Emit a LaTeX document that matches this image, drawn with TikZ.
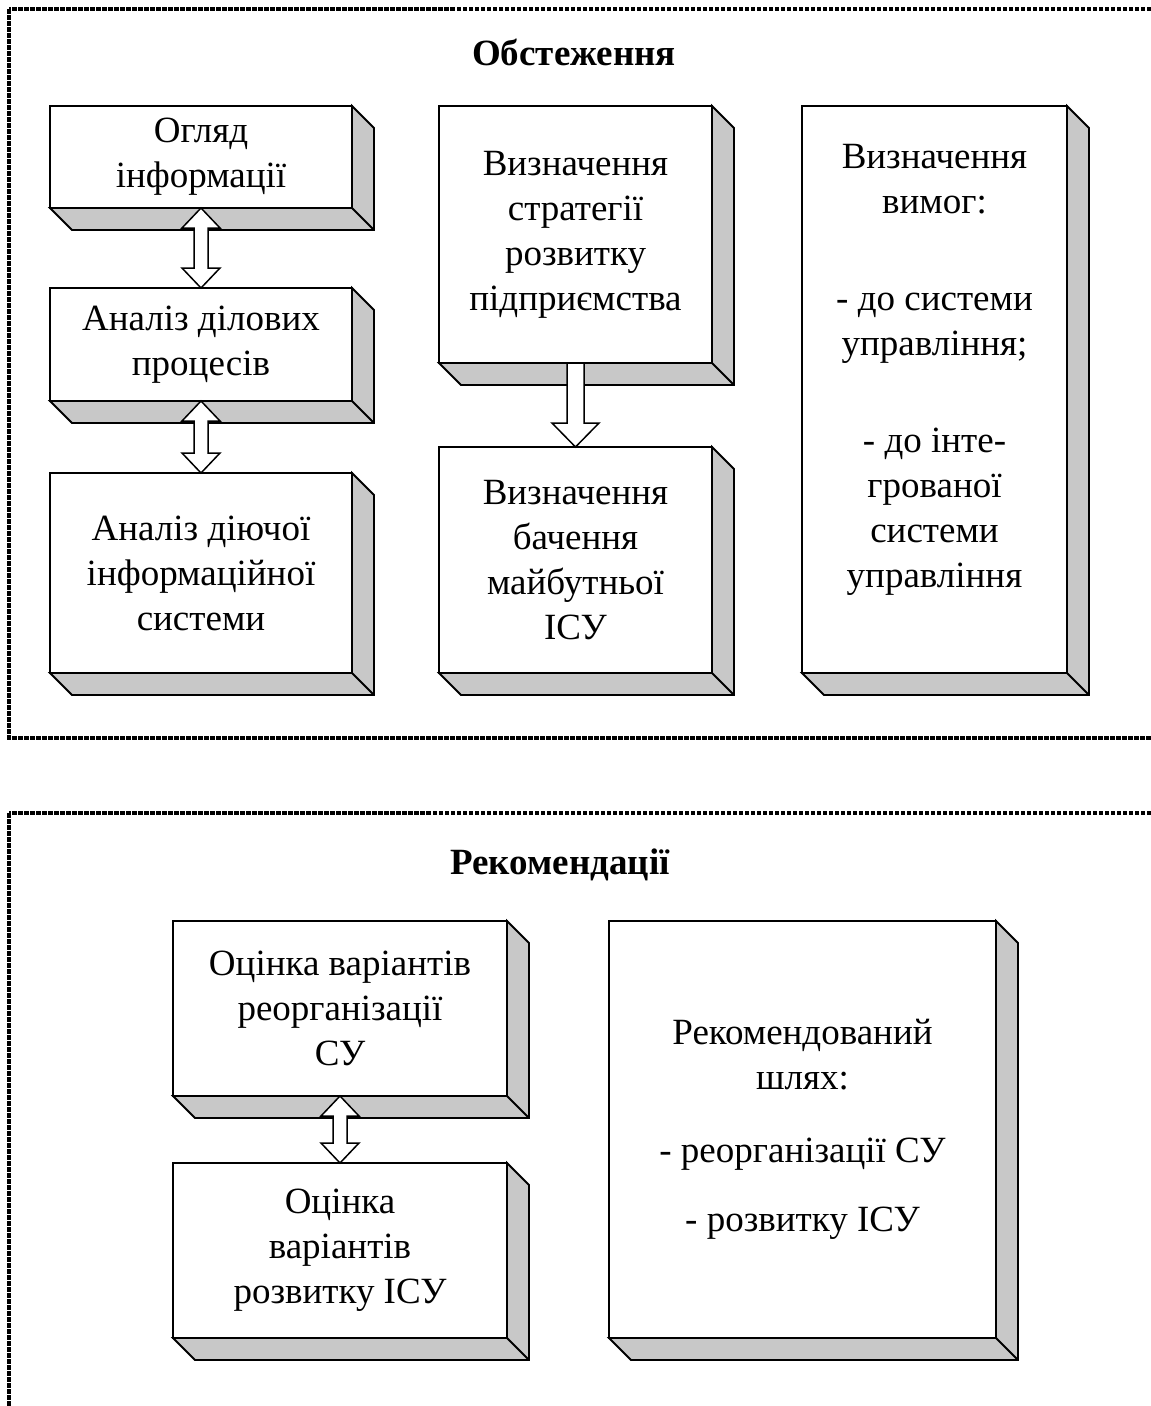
\documentclass[tikz,border=0pt]{standalone}
\usepackage{fontspec}
\setmainfont{Liberation Serif}
\usetikzlibrary{calc}
\definecolor{sidegray}{RGB}{200,200,200}
\tikzset{
  x=1pt, y=-1pt,
  face/.style={draw=black, line width=1.8pt, fill=white, align=center,
    inner sep=0pt, outer sep=0pt, font=\fontsize{37}{45}\selectfont},
  side/.style={draw=black, line width=1.8pt, fill=sidegray, line join=miter},
  blockarr/.style={draw=black, line width=1.5pt, fill=white, line join=miter},
  frame/.style={draw=black, line width=3.5pt, dash pattern=on 4.5pt off 1.5pt},
  heading/.style={font=\bfseries\fontsize{37}{45}\selectfont},
}
% bottom and right faces of a 3-D box behind a front-face node
\newcommand\boxdepth[1]{%
  \draw[side] (#1.south west) -- ++(22,22) -| ($(#1.north east)+(22,22)$)
     -- (#1.north east) -- (#1.south east) -- cycle;
  \draw[side] (#1.south east) -- ++(22,22);}
% white double-headed block arrow between two stacked boxes
\newcommand\dblarrow[2]{%
  \draw[blockarr] let \p1=(#1.south), \p2=(#2.north) in
    (\x1,\y1) -- ({\x1+19pt},{\y1-20pt}) -- ({\x1+7pt},{\y1-20pt})
    -- ({\x1+7pt},{\y2+20pt}) -- ({\x1+19pt},{\y2+20pt}) -- (\x1,\y2)
    -- ({\x1-19pt},{\y2+20pt}) -- ({\x1-7pt},{\y2+20pt})
    -- ({\x1-7pt},{\y1-20pt}) -- ({\x1-19pt},{\y1-20pt}) -- cycle;}
% white single-headed block arrow pointing down
\newcommand\sglarrow[2]{%
  \draw[blockarr] let \p1=(#1.south), \p2=(#2.north) in
    ({\x1-8.5pt},\y1) -- ({\x1+8.5pt},\y1) -- ({\x1+8.5pt},{\y2+24pt})
    -- ({\x1+23.5pt},{\y2+24pt}) -- (\x1,\y2) -- ({\x1-23.5pt},{\y2+24pt})
    -- ({\x1-8.5pt},{\y2+24pt}) -- cycle;}
\begin{document}
\begin{tikzpicture}
\useasboundingbox (0,0) rectangle (1151,1406);
\clip (0,0) rectangle (1151,1406);
\fill[white] (0,0) rectangle (1151,1406);

% dashed section frames
\draw[frame] (9,9) rectangle (1180,738);
\draw[frame] (9,813) rectangle (1180,1440);

% section headings
\node[heading] (obst) at (574,52) {Обстеження};
\node[heading] (rekh) at (560,865) {Рекомендації};

% survey section
\node[face, minimum width=302, minimum height=102] (ogl) at (201,157)
  {Огляд\\інформації};
\node[face, minimum width=302, minimum height=113] (adp) at (201,344.5)
  {Аналіз ділових\\процесів};
\node[face, minimum width=302, minimum height=200] (adis) at (201,573)
  {Аналіз діючої\\інформаційної\\системи};
\node[face, minimum width=273, minimum height=257] (str) at (575.5,234.5)
  {Визначення\\стратегії\\розвитку\\підприємства};
\node[face, minimum width=273, minimum height=226] (bach) at (575.5,560)
  {Визначення\\бачення\\майбутньої\\ІСУ};
\node[face, minimum width=265, minimum height=567] (vym) at (934.5,389.5)
  {Визначення\\вимог:\\[52pt]- до системи\\управління;\\[52pt]- до інте-\\грованої\\системи\\управління\\[2pt]\mbox{}};

% recommendations section
\node[face, minimum width=334, minimum height=175] (ocr) at (340,1008.5)
  {Оцінка варіантів\\реорганізації\\СУ};
\node[face, minimum width=334, minimum height=175] (ocd) at (340,1250.5)
  {Оцінка\\варіантів\\розвитку ІСУ};
\node[face, minimum width=387, minimum height=417] (rek) at (802.5,1129.5)
  {Рекомендований\\шлях:\\[28pt]- реорганізації СУ\\[24pt]- розвитку ІСУ};

\foreach \b in {ogl,adp,adis,str,bach,vym,ocr,ocd,rek} {\boxdepth{\b}}

\dblarrow{ogl}{adp}
\dblarrow{adp}{adis}
\sglarrow{str}{bach}
\dblarrow{ocr}{ocd}
\end{tikzpicture}
\end{document}
